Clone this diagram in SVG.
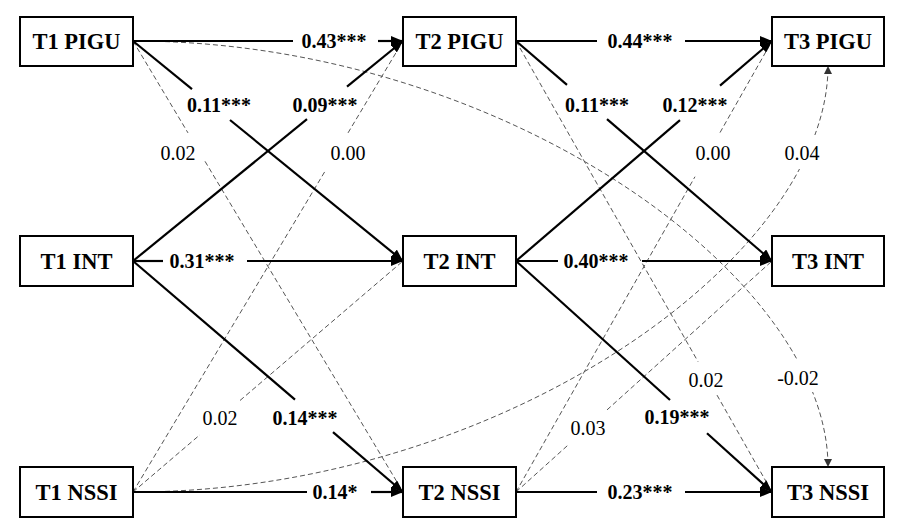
<svg xmlns="http://www.w3.org/2000/svg" width="900" height="530" viewBox="0 0 900 530">
<defs>
<marker id="ah" markerUnits="userSpaceOnUse" markerWidth="14" markerHeight="10" refX="12" refY="5" orient="auto">
<path d="M0,0 L12,5 L0,10 z" fill="#000"/>
</marker>
<marker id="ahs" markerUnits="userSpaceOnUse" markerWidth="10" markerHeight="8" refX="8" refY="4" orient="auto">
<path d="M0,0 L8,4 L0,8 z" fill="#333"/>
</marker>
<style>
.box{fill:#fff;stroke:#000;stroke-width:2}
.nt{font-family:'Liberation Serif',serif;font-weight:bold;font-size:22.5px;text-anchor:middle;fill:#000}
.sl{fill:none;stroke:#000;stroke-width:2.2}
.dl{fill:none;stroke:#555;stroke-width:1;stroke-dasharray:5,3}
.bl{font-family:'Liberation Serif',serif;font-weight:bold;font-size:20px;text-anchor:middle;fill:#000}
.rl{font-family:'Liberation Serif',serif;font-size:20px;text-anchor:middle;fill:#000}
</style>
</defs>
<rect width="900" height="530" fill="#fff"/>
<g id="connectors">
<path class="dl" d="M133,41 C500,41 828,275 828,467" marker-end="url(#ahs)"/>
<path class="dl" d="M133,492 C500,492 828,258 828,66" marker-end="url(#ahs)"/>
<rect x="779" y="360" width="38" height="32" fill="#fff"/>
<rect x="784" y="135" width="36" height="34" fill="#fff"/>
<path class="dl" d="M133,41 L188,132.9 M205,161.3 L403,492"/>
<path class="dl" d="M133,492 L326,169.6 M348,132.9 L403,41"/>
<path class="dl" d="M133,492 L200,434.7 M240,400.5 L403,261"/>
<path class="dl" d="M516,41 L698,361.6 M717,395.1 L772,492"/>
<path class="dl" d="M516,492 L695,176.7 M720,132.6 L772,41"/>
<path class="dl" d="M516,492 L568,445.1 M607,409.9 L772,261"/>
<path class="sl" d="M133,41 H293"/><path class="sl" d="M378,41 H403" marker-end="url(#ah)"/>
<path class="sl" d="M133,41 L192,89.1"/><path class="sl" d="M230,120 L403,261" marker-end="url(#ah)"/>
<path class="sl" d="M133,261 L307,119.2"/><path class="sl" d="M347,86.6 L403,41" marker-end="url(#ah)"/>
<path class="sl" d="M133,261 H163"/><path class="sl" d="M247,261 H403" marker-end="url(#ah)"/>
<path class="sl" d="M133,261 L295,399.6"/><path class="sl" d="M333,432.1 L403,492" marker-end="url(#ah)"/>
<path class="sl" d="M133,492 H307"/><path class="sl" d="M371,492 H403" marker-end="url(#ah)"/>
<path class="sl" d="M516,41 H597"/><path class="sl" d="M685,41 H772" marker-end="url(#ah)"/>
<path class="sl" d="M516,41 L567,84.8"/><path class="sl" d="M607,119.2 L772,261" marker-end="url(#ah)"/>
<path class="sl" d="M516,261 L680,120.1"/><path class="sl" d="M720,85.7 L772,41" marker-end="url(#ah)"/>
<path class="sl" d="M516,261 H558"/><path class="sl" d="M642,261 H772" marker-end="url(#ah)"/>
<path class="sl" d="M516,261 L670,400"/><path class="sl" d="M707,433.3 L772,492" marker-end="url(#ah)"/>
<path class="sl" d="M516,492 H597"/><path class="sl" d="M685,492 H772" marker-end="url(#ah)"/>
<text class="bl" x="334" y="48">0.43***</text>
<text class="bl" x="219" y="112">0.11***</text>
<text class="bl" x="325" y="112">0.09***</text>
<text class="bl" x="202" y="268">0.31***</text>
<text class="bl" x="305" y="425">0.14***</text>
<text class="bl" x="335" y="499">0.14*</text>
<text class="bl" x="640" y="48">0.44***</text>
<text class="bl" x="597" y="112">0.11***</text>
<text class="bl" x="695" y="112">0.12***</text>
<text class="bl" x="596" y="268">0.40***</text>
<text class="bl" x="677" y="424">0.19***</text>
<text class="bl" x="640" y="499">0.23***</text>
<text class="rl" x="178" y="160">0.02</text>
<text class="rl" x="348" y="160">0.00</text>
<text class="rl" x="220" y="425">0.02</text>
<text class="rl" x="706" y="387">0.02</text>
<text class="rl" x="713" y="160">0.00</text>
<text class="rl" x="588" y="435">0.03</text>
<text class="rl" x="798" y="385">-0.02</text>
<text class="rl" x="802" y="160">0.04</text>
</g>
<g id="t1pigu"><rect class="box" x="20" y="17" width="113" height="49"/><text class="nt" x="76.5" y="49">T1 PIGU</text></g>
<g id="t2pigu"><rect class="box" x="403" y="17" width="113" height="49"/><text class="nt" x="459.5" y="49">T2 PIGU</text></g>
<g id="t3pigu"><rect class="box" x="772" y="17" width="112" height="49"/><text class="nt" x="828" y="49">T3 PIGU</text></g>
<g id="t1int"><rect class="box" x="20" y="236" width="113" height="50"/><text class="nt" x="76.5" y="269">T1 INT</text></g>
<g id="t2int"><rect class="box" x="403" y="236" width="113" height="50"/><text class="nt" x="459.5" y="269">T2 INT</text></g>
<g id="t3int"><rect class="box" x="772" y="236" width="112" height="50"/><text class="nt" x="828" y="269">T3 INT</text></g>
<g id="t1nssi"><rect class="box" x="20" y="467" width="113" height="50"/><text class="nt" x="76.5" y="500">T1 NSSI</text></g>
<g id="t2nssi"><rect class="box" x="403" y="467" width="113" height="50"/><text class="nt" x="459.5" y="500">T2 NSSI</text></g>
<g id="t3nssi"><rect class="box" x="772" y="467" width="112" height="50"/><text class="nt" x="828" y="500">T3 NSSI</text></g>
</svg>
